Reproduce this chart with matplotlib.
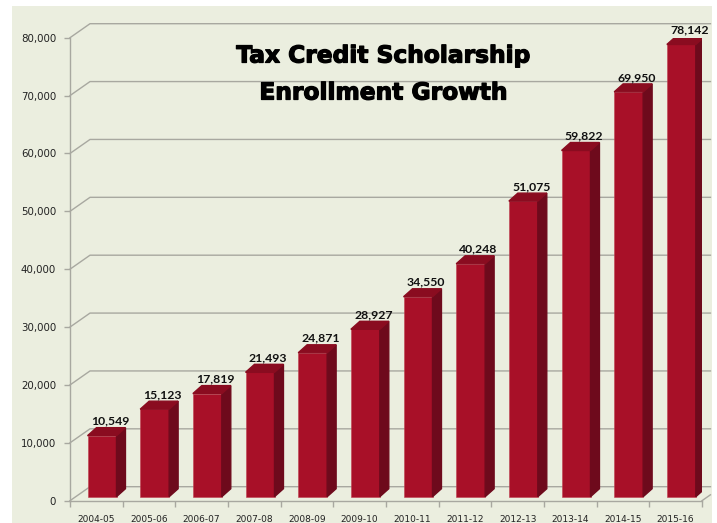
import matplotlib.pyplot as plt
import matplotlib.patheffects as pe
from matplotlib.patches import Polygon
from matplotlib.ticker import FuncFormatter

years = ["2004-05", "2005-06", "2006-07", "2007-08", "2008-09", "2009-10",
         "2010-11", "2011-12", "2012-13", "2013-14", "2014-15", "2015-16"]
enrollment = [10549, 15123, 17819, 21493, 24871, 28927,
              34550, 40248, 51075, 59822, 69950, 78142]
y_ticks = [0, 10000, 20000, 30000, 40000, 50000, 60000, 70000, 80000]

front_col = "#A81028"
side_col = "#6E0A1C"
top_col = "#8A0C20"
grid_col = "#A8A8A0"
bg_col = "#EBEEDF"

fig = plt.figure(figsize=(7.17, 5.23), dpi=100)
bg = fig.add_axes([12 / 717, 0, 700 / 717, 517 / 523], zorder=-5)
bg.set_facecolor(bg_col)
bg.set_xticks([])
bg.set_yticks([])
for s in bg.spines.values():
    s.set_visible(False)

ax = fig.add_axes([70 / 717, 22.3 / 523, 632 / 717, 463 / 523])
ax.set_facecolor("none")
ax.set_xlim(-0.5, 11.5)
ax.set_ylim(0, 80000)

# 3d offsets (data units)
wall_dx, wall_dy = 0.38, 2420
bar_dx, bar_dy = 0.17, 1380
base = 690
shift = 0.108
w = 0.55

# back wall grid lines
x_end = 11.66
for v in y_ticks:
    ax.plot([-0.5, -0.5 + wall_dx, x_end], [v, v + wall_dy, v + wall_dy],
            color=grid_col, lw=1.0, clip_on=False, zorder=1)
t = 0.16 / wall_dx
ax.plot([11.5, 11.5 + 0.16], [0, t * wall_dy], color=grid_col, lw=1.0,
        clip_on=False, zorder=1)

xs = range(len(years))
ax.bar([i + shift for i in xs], enrollment, width=w, bottom=base,
       color=front_col, edgecolor="#C04050", linewidth=0.4, zorder=3)
for i, v in zip(xs, enrollment):
    x0 = i + shift - w / 2
    x1 = i + shift + w / 2
    top = base + v
    ax.add_patch(Polygon([(x1, base), (x1 + bar_dx, base + bar_dy),
                          (x1 + bar_dx, top + bar_dy), (x1, top)],
                         closed=True, color=side_col, zorder=3))
    ax.add_patch(Polygon([(x0, top), (x0 + bar_dx, top + bar_dy),
                          (x1 + bar_dx, top + bar_dy), (x1, top)],
                         closed=True, color=top_col, zorder=3))
    ax.text(i + shift + 0.15, top + 2500, f"{v:,}", ha="center", va="center",
            fontsize=8.8, fontweight="bold", family="Lato", color="#111111",
            zorder=4)

ax.set_yticks(y_ticks)
ax.yaxis.set_major_formatter(FuncFormatter(lambda v, p: f"{int(v):,}"))
ax.set_xticks(list(xs))
ax.set_xticklabels(years)
ax.set_xticks([i - 0.5 for i in range(len(years) + 1)], minor=True)
ax.tick_params(axis="x", which="major", length=0, pad=10, labelsize=6.5,
               labelcolor="#222222")
ax.tick_params(axis="x", which="minor", length=4, color=grid_col, width=1.0)
ax.tick_params(axis="y", length=4, color=grid_col, width=1.0, pad=6,
               labelsize=7.4, labelcolor="#222222")
for s in ["top", "right"]:
    ax.spines[s].set_visible(False)
for s in ["left", "bottom"]:
    ax.spines[s].set_color(grid_col)
    ax.spines[s].set_linewidth(1.0)

heavy = [pe.withStroke(linewidth=0.9, foreground="black")]
fig.text(384 / 717, 1 - 56 / 523, "Tax Credit Scholarship", ha="center",
         va="center", fontsize=16.8, fontweight="bold", color="black",
         path_effects=heavy)
fig.text(384 / 717, 1 - 93 / 523, "Enrollment Growth", ha="center",
         va="center", fontsize=16.8, fontweight="bold", color="black",
         path_effects=heavy)

fig.savefig("out.png", dpi=100)
